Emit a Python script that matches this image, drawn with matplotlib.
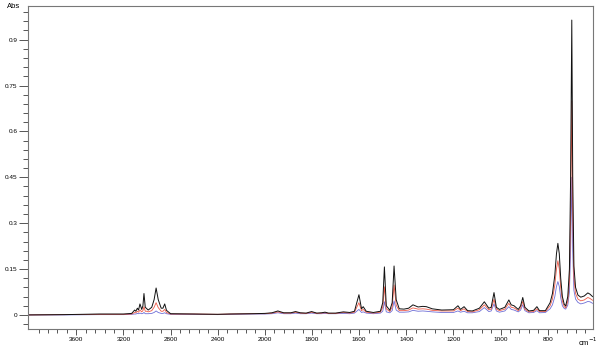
import matplotlib
matplotlib.use("Agg")
import matplotlib.pyplot as plt
from matplotlib.ticker import FixedLocator, FuncFormatter
import numpy as np

plt.rcParams['font.family'] = ['Liberation Sans', 'DejaVu Sans']

# wavenumbers (cm-1) shared by the three traces
wavenumber = [
    4010, 3700, 3400, 3200, 3130, 3105, 3095, 3082, 3072, 3060, 3045, 3035, 3026,
    3015, 3001, 2990, 2960, 2940, 2923, 2905, 2880, 2865, 2850, 2835, 2800, 2600,
    2400, 2300, 2100, 2000, 1970, 1945, 1920, 1890, 1870, 1850, 1825, 1802, 1780,
    1760, 1745, 1730, 1700, 1667, 1640, 1620, 1601, 1590, 1583, 1570, 1540, 1510,
    1500, 1493, 1485, 1470, 1460, 1452, 1443, 1430, 1410, 1390, 1372, 1350, 1330,
    1315, 1290, 1250, 1200, 1181, 1170, 1155, 1140, 1120, 1090, 1069, 1050, 1040,
    1028, 1018, 1005, 982, 975, 965, 955, 943, 925, 915, 906, 897, 880, 860, 846,
    835, 810, 790, 780, 770, 763, 757, 751, 745, 738, 730, 724, 715, 708, 703, 698,
    694, 689, 682, 672, 660, 645, 630, 621, 610,
]

abs_black = [
    0.000, 0.001, 0.003, 0.003, 0.005, 0.016, 0.012, 0.022, 0.016, 0.036, 0.018, 0.030, 0.070,
    0.025, 0.020, 0.016, 0.025, 0.050, 0.088, 0.050, 0.022, 0.022, 0.036, 0.015, 0.004, 0.003,
    0.002, 0.003, 0.004, 0.005, 0.007, 0.013, 0.007, 0.007, 0.011, 0.007, 0.006, 0.011, 0.006,
    0.007, 0.009, 0.006, 0.006, 0.010, 0.008, 0.012, 0.066, 0.020, 0.027, 0.012, 0.008, 0.012,
    0.040, 0.157, 0.030, 0.015, 0.040, 0.160, 0.050, 0.020, 0.019, 0.022, 0.033, 0.026, 0.028,
    0.027, 0.020, 0.016, 0.017, 0.030, 0.018, 0.027, 0.014, 0.013, 0.022, 0.043, 0.022, 0.025,
    0.073, 0.025, 0.018, 0.025, 0.035, 0.049, 0.033, 0.030, 0.018, 0.030, 0.057, 0.025, 0.013,
    0.015, 0.027, 0.014, 0.014, 0.040, 0.070, 0.130, 0.200, 0.234, 0.200, 0.120, 0.060, 0.035,
    0.029, 0.060, 0.150, 0.450, 0.964, 0.450, 0.160, 0.090, 0.065, 0.058, 0.062, 0.072, 0.068,
    0.060,
]

abs_red = [
    0.000, 0.001, 0.002, 0.002, 0.003, 0.008, 0.007, 0.012, 0.009, 0.016, 0.010, 0.014, 0.027,
    0.012, 0.012, 0.010, 0.014, 0.025, 0.040, 0.024, 0.012, 0.012, 0.018, 0.008, 0.003, 0.003,
    0.002, 0.003, 0.004, 0.004, 0.006, 0.010, 0.006, 0.006, 0.009, 0.006, 0.005, 0.009, 0.005,
    0.006, 0.007, 0.005, 0.005, 0.008, 0.006, 0.009, 0.040, 0.014, 0.018, 0.009, 0.006, 0.009,
    0.025, 0.092, 0.020, 0.011, 0.026, 0.098, 0.032, 0.014, 0.014, 0.016, 0.023, 0.019, 0.020,
    0.019, 0.015, 0.013, 0.013, 0.022, 0.014, 0.020, 0.011, 0.010, 0.017, 0.033, 0.017, 0.019,
    0.051, 0.019, 0.014, 0.019, 0.027, 0.038, 0.025, 0.023, 0.014, 0.023, 0.044, 0.019, 0.010,
    0.011, 0.020, 0.011, 0.011, 0.030, 0.052, 0.098, 0.150, 0.177, 0.150, 0.090, 0.045, 0.027,
    0.023, 0.045, 0.110, 0.330, 0.700, 0.330, 0.120, 0.070, 0.052, 0.046, 0.049, 0.057, 0.054,
    0.048,
]

abs_blue = [
    0.000, 0.000, 0.001, 0.001, 0.002, 0.003, 0.003, 0.005, 0.004, 0.006, 0.004, 0.005, 0.008,
    0.004, 0.004, 0.004, 0.005, 0.008, 0.013, 0.008, 0.005, 0.005, 0.007, 0.004, 0.002, 0.002,
    0.001, 0.002, 0.003, 0.003, 0.004, 0.007, 0.004, 0.004, 0.006, 0.004, 0.004, 0.006, 0.004,
    0.004, 0.005, 0.004, 0.004, 0.005, 0.004, 0.006, 0.018, 0.008, 0.010, 0.006, 0.004, 0.006,
    0.012, 0.043, 0.010, 0.007, 0.014, 0.046, 0.016, 0.009, 0.009, 0.010, 0.015, 0.012, 0.013,
    0.012, 0.010, 0.008, 0.008, 0.013, 0.009, 0.012, 0.007, 0.007, 0.011, 0.024, 0.011, 0.013,
    0.036, 0.013, 0.009, 0.013, 0.019, 0.027, 0.018, 0.016, 0.010, 0.016, 0.033, 0.014, 0.007,
    0.008, 0.014, 0.007, 0.008, 0.020, 0.033, 0.060, 0.093, 0.109, 0.093, 0.056, 0.030, 0.021,
    0.019, 0.032, 0.075, 0.210, 0.450, 0.210, 0.080, 0.052, 0.041, 0.036, 0.039, 0.044, 0.043,
    0.038,
]

x_labels = [3600, 3200, 2800, 2400, 2000, 1800, 1600, 1400, 1200, 1000, 800]
y_labels = [0, 0.15, 0.3, 0.45, 0.6, 0.75, 0.9]


# the instrument axis is compressed 2x above 2000 cm-1
def to_u(w):
    w = np.asarray(w, dtype=float)
    return np.where(w >= 2000, (4000 - w) / 2.0, 1000 + (2000 - w))


def from_u(u):
    return 4000 - 2 * u if u <= 1000 else 2000 - (u - 1000)


fig = plt.figure(figsize=(6.0, 3.47), dpi=100)
ax = fig.add_axes([28 / 600, 18 / 347, 565 / 600, 323 / 347])

u = to_u(wavenumber)
ax.plot(u, abs_blue, color="#6f6fd6", lw=0.6)
ax.plot(u, abs_red, color="#ef5a48", lw=0.6)
ax.plot(u, abs_black, color="#111111", lw=0.7)

ax.set_xlim(-5, 2392)
ax.set_ylim(-0.046, 1.01)

ax.xaxis.set_major_locator(FixedLocator(to_u(x_labels)))
ax.xaxis.set_minor_locator(FixedLocator(np.arange(40, 2361, 40)))
ax.xaxis.set_major_formatter(FuncFormatter(lambda v, p: f"{from_u(v):.0f}"))
ax.yaxis.set_major_locator(FixedLocator(y_labels))
ax.yaxis.set_minor_locator(FixedLocator(np.arange(-0.03, 1.0, 0.03)))
ax.yaxis.set_major_formatter(FuncFormatter(lambda v, p: "0" if v == 0 else f"{v:g}"))

for sp in ax.spines.values():
    sp.set_color("#777777")
    sp.set_linewidth(0.8)

ax.tick_params(axis="both", which="both", direction="out", color="#555555",
               width=0.7, labelsize=4.6, pad=1.2)
ax.tick_params(axis="y", which="major", length=6.5)
ax.tick_params(axis="y", which="minor", length=3.6)
ax.tick_params(axis="x", which="major", length=4.5)
ax.tick_params(axis="x", which="minor", length=3.0)

fig.text(7 / 600, 1 - 7 / 347, "Abs", fontsize=5.5, va="center", ha="left")
fig.text(578 / 600, 1 - 342 / 347, "cm$^{-1}$", fontsize=5.5, va="center", ha="left")

fig.savefig("out.png", dpi=100)
